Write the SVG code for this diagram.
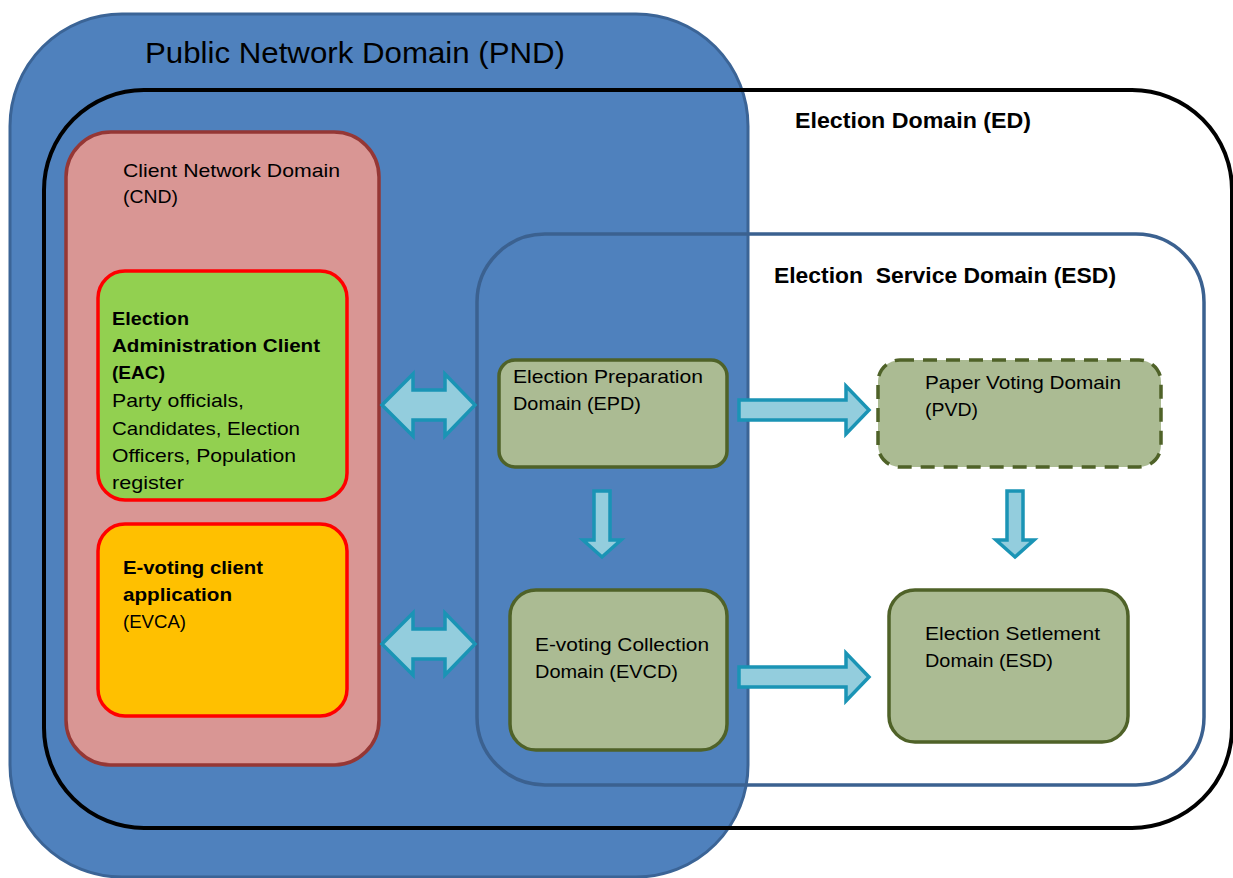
<svg xmlns="http://www.w3.org/2000/svg" width="1233" height="878" viewBox="0 0 1233 878">
<style>
text{font-family:"Liberation Sans",Arial,sans-serif;fill:#000}
.b{font-weight:bold}
.t19{font-size:19px}
.box{fill:#abbb93;stroke:#4f6228;stroke-width:3.5}
.arr{fill:#93cddd;stroke:#1a94b5;stroke-width:3.5;stroke-linejoin:miter}
</style>
<rect width="1233" height="878" fill="#fff"/>
<g id="pnd">
<rect x="10" y="14" width="738" height="863" rx="112" ry="112" fill="#4f81bd" stroke="#3b6496" stroke-width="3"/>
<text x="145" y="63" style="font-size:30px" textLength="420" lengthAdjust="spacingAndGlyphs">Public Network Domain (PND)</text>
</g>
<g id="ed">
<rect x="44" y="90" width="1188" height="738" rx="100" ry="100" fill="none" stroke="#000" stroke-width="4"/>
<text x="795" y="128" class="b" style="font-size:22px" textLength="236" lengthAdjust="spacingAndGlyphs">Election Domain (ED)</text>
</g>
<g id="esd">
<rect x="477" y="234" width="727" height="551" rx="68" ry="68" fill="none" stroke="#3b6190" stroke-width="3.5"/>
<text x="774" y="283" class="b" style="font-size:22px" xml:space="preserve" textLength="342" lengthAdjust="spacingAndGlyphs">Election  Service Domain (ESD)</text>
</g>
<g id="cnd">
<rect x="66" y="132" width="313" height="633" rx="45" ry="45" fill="#d99694" stroke="#953735" stroke-width="3.5"/>
<text x="123" y="177" class="t19" textLength="217" lengthAdjust="spacingAndGlyphs">Client Network Domain</text>
<text x="123" y="203" class="t19" textLength="55" lengthAdjust="spacingAndGlyphs">(CND)</text>
</g>
<g id="eac">
<rect x="98" y="271" width="249" height="229" rx="27" ry="27" fill="#92d050" stroke="#ff0000" stroke-width="3.5"/>
<text x="112" y="325" class="t19 b" textLength="77" lengthAdjust="spacingAndGlyphs">Election</text>
<text x="112" y="352" class="t19 b" textLength="208" lengthAdjust="spacingAndGlyphs">Administration Client</text>
<text x="112" y="379" class="t19 b" textLength="53" lengthAdjust="spacingAndGlyphs">(EAC)</text>
<text x="112" y="407" class="t19" textLength="132" lengthAdjust="spacingAndGlyphs">Party officials,</text>
<text x="112" y="435" class="t19" textLength="188" lengthAdjust="spacingAndGlyphs">Candidates, Election</text>
<text x="112" y="462" class="t19" textLength="184" lengthAdjust="spacingAndGlyphs">Officers, Population</text>
<text x="112" y="489" class="t19" textLength="72" lengthAdjust="spacingAndGlyphs">register</text>
</g>
<g id="evca">
<rect x="98" y="524" width="249" height="192" rx="27" ry="27" fill="#ffc000" stroke="#ff0000" stroke-width="3.5"/>
<text x="123" y="574" class="t19 b" textLength="140" lengthAdjust="spacingAndGlyphs">E-voting client</text>
<text x="123" y="601" class="t19 b" textLength="109" lengthAdjust="spacingAndGlyphs">application</text>
<text x="123" y="628" class="t19" textLength="63" lengthAdjust="spacingAndGlyphs">(EVCA)</text>
</g>
<g id="epd">
<rect x="499" y="360" width="228" height="107" rx="16" ry="16" class="box"/>
<text x="513" y="383" class="t19" textLength="190" lengthAdjust="spacingAndGlyphs">Election Preparation</text>
<text x="513" y="410" class="t19" textLength="128" lengthAdjust="spacingAndGlyphs">Domain (EPD)</text>
</g>
<g id="pvd">
<rect x="878" y="360" width="283" height="107" rx="22" ry="22" class="box" stroke-dasharray="14 9"/>
<text x="925" y="389" class="t19" textLength="196" lengthAdjust="spacingAndGlyphs">Paper Voting Domain</text>
<text x="925" y="416" class="t19" textLength="53" lengthAdjust="spacingAndGlyphs">(PVD)</text>
</g>
<g id="evcd">
<rect x="510" y="590" width="217" height="160" rx="26" ry="26" class="box"/>
<text x="535" y="651" class="t19" textLength="174" lengthAdjust="spacingAndGlyphs">E-voting Collection</text>
<text x="535" y="678" class="t19" textLength="143" lengthAdjust="spacingAndGlyphs">Domain (EVCD)</text>
</g>
<g id="settle">
<rect x="889" y="590" width="239" height="152" rx="26" ry="26" class="box"/>
<text x="925" y="640" class="t19" textLength="175" lengthAdjust="spacingAndGlyphs">Election Setlement</text>
<text x="925" y="667" class="t19" textLength="128" lengthAdjust="spacingAndGlyphs">Domain (ESD)</text>
</g>
<g id="connectors">
<polygon class="arr" points="382,405 413,374 413,390 445,390 445,374 475,405 445,436 445,420 413,420 413,436"/>
<polygon class="arr" points="382,644 413,613 413,629 445,629 445,613 475,644 445,675 445,659 413,659 413,675"/>
<polygon class="arr" points="739,400 846,400 846,386 869,410 846,434 846,420 739,420"/>
<polygon class="arr" points="739,667 846,667 846,653 869,677 846,701 846,687 739,687"/>
<polygon class="arr" points="594,491 610,491 610,540 621,540 602,557 583,540 594,540"/>
<polygon class="arr" points="1007,491 1023,491 1023,540 1034,540 1015,557 996,540 1007,540"/>
</g>
</svg>
